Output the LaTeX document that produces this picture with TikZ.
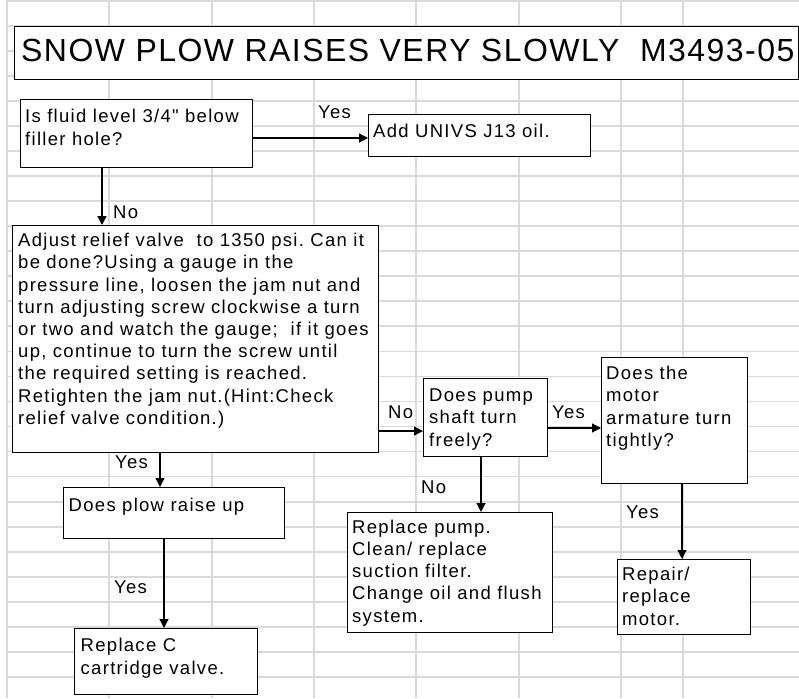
\documentclass[tikz,border=0pt]{standalone}
\usepackage{fontspec}
\setmainfont{Liberation Sans}
\newfontfamily\bodyfont{Liberation Sans}[LetterSpace=7]
\newfontfamily\titlefont{Liberation Sans}[LetterSpace=4.6]
\usetikzlibrary{arrows.meta}
\frenchspacing
\tikzset{
  gridline/.style={line width=1.8pt, draw=black!15},
  box/.style={draw=black, fill=white, line width=1.2pt, inner sep=0pt, anchor=north west},
  txt/.style={font=\bodyfont\fontsize{18.5}{22.2}\selectfont, inner sep=0pt, align=left, anchor=base west},
  lbl/.style={font=\bodyfont\fontsize{18.5}{22.2}\selectfont, inner sep=0pt, anchor=base west},
  arr/.style={-{Triangle[length=9pt,width=9pt]}, line width=1.2pt}
}
\begin{document}
\begin{tikzpicture}[x=1pt,y=-1pt]
\useasboundingbox (0,0) rectangle (799,698);
\fill[white] (0,0) rectangle (799,698);
% grid
\foreach \k in {0,...,27} \draw[gridline] (7,{1+25.03*\k}) -- (799,{1+25.03*\k});
\foreach \x in {7,109,212,314,416,519,621,683} \draw[gridline] (\x,0) -- (\x,698);
% title
\node[box, minimum width=784pt, minimum height=53pt] (title) at (14,26) {};
\node[font=\titlefont\fontsize{32}{38}\selectfont, inner sep=0pt, anchor=base west] (titlet) at (21,62) {SNOW PLOW RAISES VERY SLOWLY\ \ M3493-05};
% boxes (multi-line texts are placed by the baseline of their last line)
\node[box, minimum width=232pt, minimum height=68pt] (q1) at (20,99) {};
\node[txt] (q1t) at (25,145) {Is fluid level 3/4" below\\filler hole?};
\node[box, minimum width=222pt, minimum height=42pt] (add) at (368,114) {};
\node[txt] (addt) at (373,137) {Add UNIVS J13 oil.};
\node[box, minimum width=366pt, minimum height=227pt] (adj) at (12,225) {};
\node[txt] (adjt) at (18,424.3) {Adjust relief valve\ \ to 1350 psi. Can it\\
be done?Using a gauge in the\\
pressure line, loosen the jam nut and\\
turn adjusting screw clockwise a turn\\
or two and watch the gauge;\ \ if it goes\\
up, continue to turn the screw until\\
the required setting is reached.\\
Retighten the jam nut.(Hint:Check\\
relief valve condition.)};
\node[box, minimum width=124pt, minimum height=78pt] (pump) at (423,378) {};
\node[txt] (pumpt) at (429,446) {Does pump\\shaft turn\\freely?};
\node[box, minimum width=146pt, minimum height=126pt] (motor) at (601,357) {};
\node[txt] (motort) at (606,446.2) {Does the\\motor\\armature turn\\tightly?};
\node[box, minimum width=221pt, minimum height=51pt] (plow) at (63,487) {};
\node[txt] (plowt) at (68.5,511.7) {Does plow raise up};
\node[box, minimum width=183pt, minimum height=66pt] (cart) at (74,628) {};
\node[txt] (cartt) at (80.5,674) {Replace C\\cartridge valve.};
\node[box, minimum width=205pt, minimum height=120pt] (rpump) at (347,512) {};
\node[txt] (rpumpt) at (352,622) {Replace pump.\\Clean/ replace\\suction filter.\\Change oil and flush\\system.};
\node[box, minimum width=133pt, minimum height=75pt] (repair) at (617,559) {};
\node[txt] (repairt) at (622,625) {Repair/\\replace\\motor.};
% connector positions
\coordinate (c1) at (0,138);
\coordinate (c2) at (102,0);
\coordinate (c3) at (0,431);
\coordinate (c4) at (0,428);
\coordinate (c5) at (160,0);
\coordinate (c6) at (164,0);
\coordinate (c7) at (481,0);
\coordinate (c8) at (682,0);
% connectors
\draw[arr] (q1.east |- c1) -- (add.west |- c1);
\draw[arr] (q1.south -| c2) -- (adj.north -| c2);
\draw[arr] (adj.east |- c3) -- (pump.west |- c3);
\draw[arr] (pump.east |- c4) -- (motor.west |- c4);
\draw[arr] (adj.south -| c5) -- (plow.north -| c5);
\draw[arr] (plow.south -| c6) -- (cart.north -| c6);
\draw[arr] (pump.south -| c7) -- (rpump.north -| c7);
\draw[arr] (motor.south -| c8) -- (repair.north -| c8);
% labels
\node[lbl] (l1) at (318,118) {Yes};
\node[lbl] (l2) at (113,218) {No};
\node[lbl] (l3) at (388,418) {No};
\node[lbl] (l4) at (552,418) {Yes};
\node[lbl] (l5) at (115,468) {Yes};
\node[lbl] (l6) at (114,593) {Yes};
\node[lbl] (l7) at (421,493) {No};
\node[lbl] (l8) at (626,518) {Yes};
\end{tikzpicture}
\end{document}
